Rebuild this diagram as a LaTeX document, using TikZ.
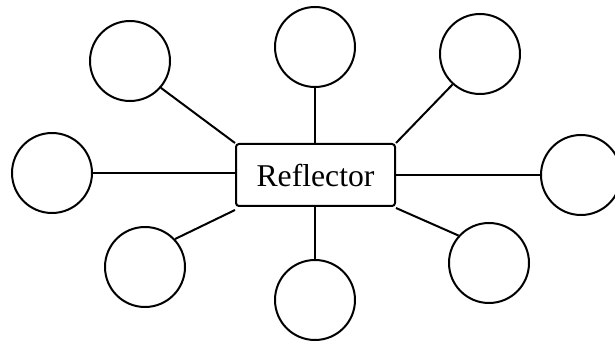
\documentclass[tikz,border=0pt]{standalone}
\usepackage{fontspec}
\setmainfont{Liberation Serif}
\begin{document}
\begin{tikzpicture}[x=1pt,y=-1pt,
  bubble/.style={draw, line width=2pt, circle, minimum size=80pt, inner sep=0pt},
  hub/.style={draw, line width=2pt, rounded corners=3pt, minimum width=159pt, minimum height=62pt, inner sep=0pt, font=\fontsize{31.7}{38}\selectfont},
  spoke/.style={line width=2pt}]
\useasboundingbox (0,0) rectangle (615,344);
\clip (0,0) rectangle (615,344);
\node[hub] (r) at (315.5,175) {Reflector};
\node[bubble] (tl) at (130,61) {};
\node[bubble] (t) at (315,47) {};
\node[bubble] (tr) at (480,54) {};
\node[bubble] (l) at (52,173) {};
\node[bubble] (rr) at (581,175) {};
\node[bubble] (bl) at (145,267) {};
\node[bubble] (b) at (315,300) {};
\node[bubble] (br) at (489,263) {};
\draw[spoke] (r.north west) -- (tl.-41);
\draw[spoke] (r.north -| t.south) -- (t.south);
\draw[spoke] (r.north east) -- (tr.-132);
\draw[spoke] (r.west |- l.east) -- (l.east);
\draw[spoke] (r.east |- rr.west) -- (rr.west);
\draw[spoke] ([yshift=-3pt]r.south west) -- (bl.43);
\draw[spoke] (r.south -| b.north) -- (b.north);
\draw[spoke] ([yshift=-1pt]r.south east) -- (br.138);
\end{tikzpicture}
\end{document}
